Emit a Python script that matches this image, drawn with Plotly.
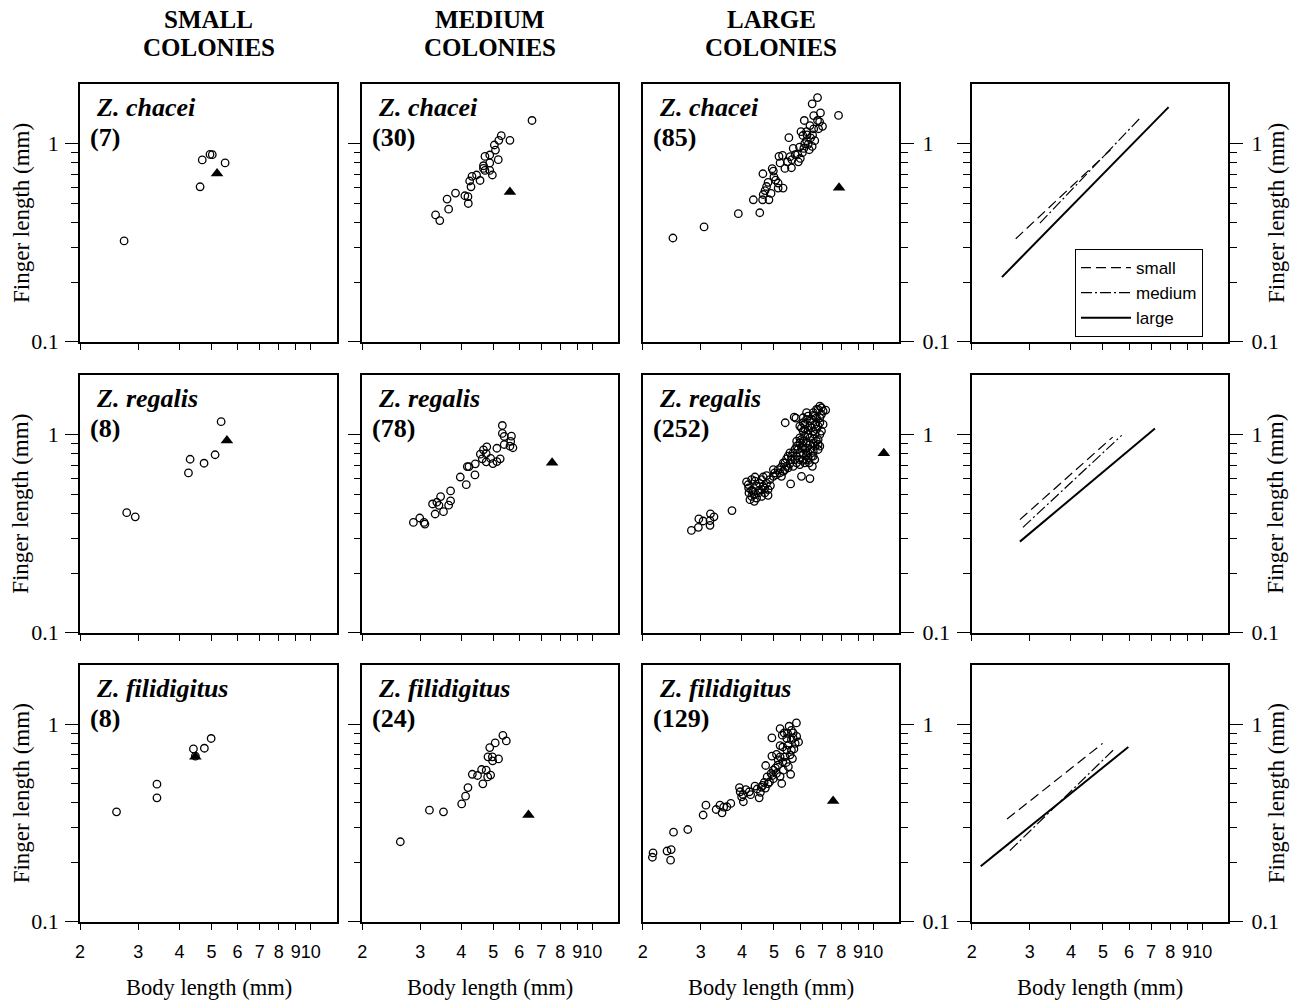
import math
import plotly.graph_objects as go

W, H = 1295, 1003

# ---------------- data ----------------
species = ["Z. chacei", "Z. regalis", "Z. filidigitus"]
sizes = ["small", "medium", "large"]
sample_n = [[7, 30, 85], [8, 78, 252], [8, 24, 129]]

x_tickvals = [2, 3, 4, 5, 6, 7, 8, 9, 10]
x_ticktext = ["2", "3", "4", "5", "6", "7", "8", "9", "10"]
y_tickvals = [0.1, 1]
y_ticktext = ["0.1", "1"]
y_minorvals = [0.2, 0.3, 0.4, 0.5, 0.6, 0.7, 0.8, 0.9, 2]

chacei_small = [(2.72, 0.323), (4.62, 0.606), (4.69, 0.828), (4.95, 0.883), (5.03, 0.88), (5.5, 0.80)]
chacei_medium = [(6.56, 1.31), (5.29, 1.098), (5.2, 1.04), (5.62, 1.04), (5.04, 0.985), (5.08, 0.929),
                 (5.18, 0.83), (4.72, 0.862), (4.88, 0.877), (4.67, 0.774), (4.88, 0.80), (4.72, 0.733),
                 (4.88, 0.733), (4.97, 0.695), (4.67, 0.75), (4.45, 0.695), (4.31, 0.684), (4.56, 0.652),
                 (4.24, 0.648), (4.28, 0.606), (3.84, 0.563), (4.10, 0.546), (4.19, 0.54), (3.62, 0.525),
                 (4.2, 0.499), (3.66, 0.467), (3.34, 0.437), (3.44, 0.409)]
chacei_large = [(2.47, 0.334), (3.07, 0.38), (3.90, 0.443), (4.53, 0.448), (4.33, 0.521), (4.62, 0.521),
                (4.83, 0.521), (4.64, 0.554), (4.9, 0.561), (4.75, 0.608), (5.06, 0.655), (5.15, 0.597),
                (5.33, 0.597), (5.15, 0.633), (4.8, 0.638), (4.63, 0.705), (4.94, 0.748), (4.98, 0.727),
                (5.18, 0.862), (5.31, 0.873), (5.22, 0.80), (5.5, 0.81), (5.67, 0.83), (5.65, 0.756),
                (5.93, 0.81), (6.01, 0.843), (5.9, 0.887), (5.72, 0.946), (5.98, 0.96), (6.16, 0.946),
                (5.55, 1.072), (6.04, 1.15), (6.12, 1.1), (6.28, 1.15), (6.4, 0.932), (6.35, 0.992),
                (6.53, 0.969), (6.65, 1.036), (6.28, 1.036), (6.46, 1.069), (6.55, 1.107), (6.3, 1.107),
                (6.43, 1.234), (6.6, 1.187), (6.18, 1.31), (6.6, 1.387), (6.78, 1.31), (6.92, 1.43),
                (6.83, 1.19), (7.02, 1.224), (6.88, 1.29), (6.53, 1.59), (6.78, 1.71), (7.85, 1.39),
                (5.8, 0.88), (6.1, 0.9), (5.4, 0.75), (6.2, 1.0), (5.0, 0.68), (4.7, 0.58), (5.6, 0.86)]

regalis_small = [(2.77, 0.403), (2.94, 0.384), (4.26, 0.64), (4.31, 0.75), (4.75, 0.716), (5.13, 0.79),
                 (5.35, 1.16)]
regalis_medium = [(2.86, 0.36), (2.99, 0.379), (3.08, 0.36), (3.1, 0.353), (3.33, 0.397), (3.27, 0.446),
                  (3.37, 0.455), (3.42, 0.439), (3.46, 0.486), (3.53, 0.408), (3.66, 0.44), (3.71, 0.462),
                  (3.71, 0.519), (3.97, 0.61), (4.14, 0.558), (4.17, 0.689), (4.22, 0.689), (4.4, 0.625),
                  (4.41, 0.711), (4.57, 0.795), (4.63, 0.754), (4.67, 0.837), (4.78, 0.866), (4.76, 0.8),
                  (4.76, 0.728), (4.91, 0.757), (4.99, 0.713), (5.13, 0.73), (5.13, 0.852), (5.25, 0.754),
                  (5.33, 1.11), (5.33, 1.012), (5.4, 0.977), (5.4, 0.89), (5.62, 0.873), (5.68, 0.98),
                  (5.65, 0.922), (5.74, 0.857)]
regalis_large = [(2.81, 0.328), (2.95, 0.34), (2.96, 0.375), (3.05, 0.366), (3.2, 0.368), (3.21, 0.398),
                 (3.29, 0.384), (3.2, 0.348), (3.73, 0.413),
                 (4.13, 0.576), (4.19, 0.537), (4.2, 0.507), (4.28, 0.487), (4.23, 0.469), (4.36, 0.46),
                 (4.43, 0.478), (4.33, 0.517), (4.52, 0.523), (4.59, 0.487), (4.69, 0.507), (4.8, 0.493),
                 (4.43, 0.548), (4.64, 0.548), (4.75, 0.566), (4.88, 0.552), (4.59, 0.592), (4.38, 0.61),
                 (4.75, 0.62), (4.98, 0.615), (5.09, 0.627), (4.98, 0.665), (5.15, 0.665), (5.34, 0.652),
                 (5.27, 0.686), (5.46, 0.691), (5.4, 0.719), (5.59, 0.713), (5.65, 0.747), (5.79, 0.747),
                 (5.46, 0.753), (5.34, 0.719), (5.52, 0.777), (5.65, 0.777), (5.86, 0.777), (5.99, 0.747),
                 (6.13, 0.741), (6.28, 0.747), (6.4, 0.719), (6.54, 0.691), (5.72, 0.808), (5.92, 0.84),
                 (6.06, 0.856), (6.2, 0.84), (6.35, 0.808), (6.58, 0.824), (6.81, 0.84), (5.86, 0.873),
                 (5.99, 0.908), (6.13, 0.925), (6.28, 0.908), (6.43, 0.89), (6.65, 0.873), (6.81, 0.89),
                 (5.99, 0.961), (6.2, 0.98), (6.35, 1.0), (6.58, 0.95), (6.81, 0.943), (6.13, 1.04),
                 (6.35, 1.052), (6.58, 1.04), (6.73, 1.06), (6.97, 1.04), (5.99, 1.102), (6.2, 1.124),
                 (6.43, 1.102), (6.65, 1.124), (6.89, 1.146), (6.28, 1.191), (6.5, 1.191), (6.73, 1.214),
                 (6.97, 1.263), (6.28, 1.288), (6.58, 1.288), (6.81, 1.338), (6.97, 1.364), (7.18, 1.328),
                 (6.13, 1.146), (6.06, 1.08), (6.35, 1.238), (6.58, 1.248),
                 (5.41, 1.146), (5.76, 1.224), (5.83, 1.21), (5.62, 0.563), (6.06, 0.615), (6.43, 0.599),
                 (5.03, 0.64), (5.21, 0.64), (5.27, 0.615), (5.4, 0.665), (5.52, 0.678), (5.72, 0.691),
                 (5.86, 0.719), (5.99, 0.705), (6.2, 0.719), (6.35, 0.762), (6.5, 0.777), (6.65, 0.747),
                 (6.58, 0.777), (6.13, 0.792), (6.28, 0.792), (6.43, 0.84), (5.99, 0.808), (5.79, 0.84),
                 (5.59, 0.808), (6.13, 0.873), (6.28, 0.856), (6.58, 0.908), (6.73, 0.925), (6.89, 0.873),
                 (6.06, 0.943), (5.86, 0.925), (6.43, 0.961), (6.65, 1.0), (6.89, 1.0), (6.2, 1.06),
                 (6.5, 1.08), (6.81, 1.102), (7.05, 1.124), (6.13, 1.214), (6.43, 1.168), (6.65, 1.238),
                 (6.89, 1.214), (7.05, 1.313), (6.73, 1.338), (6.89, 1.39),
                 (4.18, 0.559), (4.28, 0.592), (4.38, 0.581), (4.49, 0.507), (4.59, 0.527), (4.69, 0.537),
                 (4.8, 0.527), (4.28, 0.523), (4.35, 0.497), (4.52, 0.566), (4.64, 0.61), (4.86, 0.592)]

filidigitus_small = [(2.58, 0.36), (3.42, 0.497), (3.42, 0.424), (4.41, 0.75), (4.47, 0.689), (4.76, 0.756),
                     (4.99, 0.847)]
filidigitus_medium = [(2.61, 0.254), (3.2, 0.367), (3.53, 0.36), (4.01, 0.395), (4.12, 0.432), (4.19, 0.478),
                      (4.65, 0.499), (4.32, 0.558), (4.48, 0.55), (4.61, 0.59), (4.76, 0.585), (4.81, 0.541),
                      (4.91, 0.553), (4.82, 0.684), (4.97, 0.684), (4.98, 0.652), (5.19, 0.667), (4.88, 0.762),
                      (5.07, 0.804), (5.35, 0.879), (5.48, 0.823)]
filidigitus_large = [(2.14, 0.212), (2.15, 0.223), (2.37, 0.228), (2.43, 0.205), (2.44, 0.232), (2.48, 0.284),
                     (2.74, 0.293), (3.05, 0.347), (3.11, 0.389), (3.34, 0.37), (3.43, 0.389), (3.48, 0.356),
                     (3.6, 0.382), (3.7, 0.397), (3.52, 0.38), (3.93, 0.478), (3.95, 0.455), (3.99, 0.429),
                     (4.04, 0.405), (4.11, 0.467), (4.21, 0.455), (4.03, 0.44), (4.38, 0.486), (4.51, 0.424),
                     (4.55, 0.452), (4.58, 0.48), (4.67, 0.507), (4.71, 0.475), (4.77, 0.541), (4.85, 0.51),
                     (4.9, 0.563), (4.98, 0.53), (4.72, 0.618), (4.98, 0.585), (5.09, 0.563), (5.14, 0.621),
                     (5.28, 0.501), (5.22, 0.545), (5.34, 0.585), (5.32, 0.644), (5.4, 0.684), (5.22, 0.684),
                     (5.09, 0.703), (4.93, 0.69), (5.32, 0.767), (5.47, 0.74), (5.53, 0.783), (5.65, 0.74),
                     (5.62, 0.558), (5.53, 0.61), (5.69, 0.67), (5.47, 0.847), (5.65, 0.835), (5.75, 0.75),
                     (5.22, 0.78), (4.93, 0.853), (5.22, 0.95), (5.56, 0.977), (5.37, 0.904), (5.72, 0.904),
                     (5.94, 0.813), (5.86, 0.869), (5.72, 0.85), (5.85, 1.016), (5.65, 0.93),
                     (4.45, 0.47), (4.62, 0.49), (4.8, 0.5), (5.05, 0.6), (5.45, 0.64), (5.6, 0.7),
                     (5.8, 0.8), (5.3, 0.88), (5.5, 0.9), (4.25, 0.44), (4.95, 0.55), (5.15, 0.66)]

# filled triangles (one per panel): [species][size]
triangle_x = [[5.2, 5.62, 7.88], [5.57, 7.55, 10.77], [4.47, 6.4, 7.56]]
triangle_y = [[0.708, 0.57, 0.60], [0.932, 0.72, 0.804], [0.685, 0.347, 0.409]]

# regression lines (end points): [species][size] -> (x0, x1), (y0, y1)
reg_x = [[(2.72, 5.37), (3.22, 6.44), (2.47, 7.91)],
         [(2.8, 5.35), (2.86, 5.7), (2.8, 7.19)],
         [(2.56, 4.99), (2.61, 5.37), (2.13, 5.97)]]
reg_y = [[(0.331, 0.958), (0.397, 1.333), (0.212, 1.53)],
         [(0.372, 0.97), (0.34, 0.99), (0.288, 1.072)],
         [(0.331, 0.80), (0.229, 0.739), (0.191, 0.767)]]

scatter_data = [[chacei_small, chacei_medium, chacei_large],
                [regalis_small, regalis_medium, regalis_large],
                [filidigitus_small, filidigitus_medium, filidigitus_large]]

# ---------------- layout geometry (pixels) ----------------
col_px = [(80, 337), (362.3, 618.3), (642.7, 899.3), (971.7, 1228.3)]
row_px = [(84.3, 341.7), (375, 632.7), (665, 921.7)]

SERIF = "Liberation Serif"
SANS = "Liberation Sans"

def px2x(p):
    return p / W

def px2y(p):
    return 1 - p / H

fig = go.Figure()
layout = dict(width=W, height=H, margin=dict(l=0, r=0, t=0, b=0, autoexpand=False),
              paper_bgcolor="white", plot_bgcolor="white",
              font=dict(family=SERIF, color="black"), showlegend=True)

line_styles = {"small": dict(dash="10px,5px", width=1.2),
               "medium": dict(dash="11px,3px,2px,3px", width=1.2),
               "large": dict(dash="solid", width=2)}

annotations = []
for r in range(3):
    for c in range(4):
        k = r * 4 + c + 1
        xa = "x" if k == 1 else f"x{k}"
        ya = "y" if k == 1 else f"y{k}"
        xkey = "xaxis" if k == 1 else f"xaxis{k}"
        ykey = "yaxis" if k == 1 else f"yaxis{k}"
        layout[xkey] = dict(
            domain=[px2x(col_px[c][0]), px2x(col_px[c][1])], anchor=ya,
            type="log", range=[math.log10(2), math.log10(12.0)], automargin=False,
            showline=True, linecolor="black", linewidth=1.5, mirror=True,
            ticks="outside", ticklen=7, tickwidth=1.2, tickcolor="black",
            tickmode="array", tickvals=x_tickvals, ticktext=x_ticktext, tickangle=0,
            showticklabels=(r == 2), tickfont=dict(family=SANS, size=18),
            ticklabelstandoff=6, showgrid=False, zeroline=False)
        side = "left" if c < 2 else "right"
        layout[ykey] = dict(
            domain=[px2y(row_px[r][1]), px2y(row_px[r][0])], anchor=xa,
            type="log", range=[-1, 0.3], side=side, automargin=False,
            showline=True, linecolor="black", linewidth=1.5,
            mirror=("ticks" if c == 3 else True),
            ticks="outside", ticklen=13, tickwidth=1.2, tickcolor="black",
            tickmode="array", tickvals=y_tickvals, ticktext=y_ticktext,
            minor=dict(tickmode="array", tickvals=y_minorvals, ticks="outside",
                       ticklen=7, tickwidth=1.2, tickcolor="black", showgrid=False),
            showticklabels=(c != 1), tickfont=dict(family=SERIF, size=22),
            ticklabelstandoff=(4 if c >= 2 else 2),
            showgrid=False, zeroline=False)

        if c < 3:
            pts = scatter_data[r][c]
            fig.add_trace(go.Scatter(
                x=[p[0] for p in pts], y=[p[1] for p in pts], mode="markers",
                marker=dict(symbol="circle-open", size=7.5, color="black", line=dict(width=1.3)),
                xaxis=xa, yaxis=ya, showlegend=False, hoverinfo="skip"))
            fig.add_trace(go.Scatter(
                x=[triangle_x[r][c]], y=[triangle_y[r][c]], mode="markers",
                marker=dict(symbol="triangle-up", size=11, color="black"),
                xaxis=xa, yaxis=ya, showlegend=False, hoverinfo="skip"))
            left, top = col_px[c][0], row_px[r][0]
            annotations.append(dict(
                x=px2x(left + 14), y=px2y(top + 23), xref="paper", yref="paper",
                xanchor="left", yanchor="middle", showarrow=False,
                text=f"<b><i>{species[r]}</i></b>", font=dict(family=SERIF, size=26)))
            annotations.append(dict(
                x=px2x(left + 8), y=px2y(top + 53), xref="paper", yref="paper",
                xanchor="left", yanchor="middle", showarrow=False,
                text=f"<b>({sample_n[r][c]})</b>", font=dict(family=SERIF, size=26)))
        else:
            for s, name in enumerate(sizes):
                fig.add_trace(go.Scatter(
                    x=list(reg_x[r][s]), y=list(reg_y[r][s]), mode="lines",
                    line=dict(color="black", **line_styles[name]), name=name,
                    xaxis=xa, yaxis=ya, showlegend=(r == 0), hoverinfo="skip"))

# axis titles
for r in range(3):
    cy = (row_px[r][0] + row_px[r][1]) / 2
    for xp in (21, 1276):
        annotations.append(dict(x=px2x(xp), y=px2y(cy), xref="paper", yref="paper",
                                xanchor="center", yanchor="middle", showarrow=False,
                                textangle=-90, text="Finger length (mm)",
                                font=dict(family=SERIF, size=23)))
for c in range(4):
    cx = (col_px[c][0] + col_px[c][1]) / 2
    annotations.append(dict(x=px2x(cx), y=px2y(987), xref="paper", yref="paper",
                            xanchor="center", yanchor="middle", showarrow=False,
                            text="Body length (mm)", font=dict(family=SERIF, size=22.5)))

# column headers
headers = ["SMALL", "MEDIUM", "LARGE"]
for c in range(3):
    cx = (col_px[c][0] + col_px[c][1]) / 2
    annotations.append(dict(x=px2x(cx), y=px2y(19), xref="paper", yref="paper",
                            xanchor="center", yanchor="middle", showarrow=False,
                            text=f"<b>{headers[c]}</b>", font=dict(family=SERIF, size=25)))
    annotations.append(dict(x=px2x(cx), y=px2y(47), xref="paper", yref="paper",
                            xanchor="center", yanchor="middle", showarrow=False,
                            text="<b>COLONIES</b>", font=dict(family=SERIF, size=25)))

layout["annotations"] = annotations
layout["legend"] = dict(x=px2x(1075), y=px2y(249), xanchor="left", yanchor="top",
                        bordercolor="black", borderwidth=1, bgcolor="white",
                        font=dict(family=SANS, size=17), tracegroupgap=0,
                        itemwidth=50)

fig.update_layout(**layout)
fig.write_html("out.html")
